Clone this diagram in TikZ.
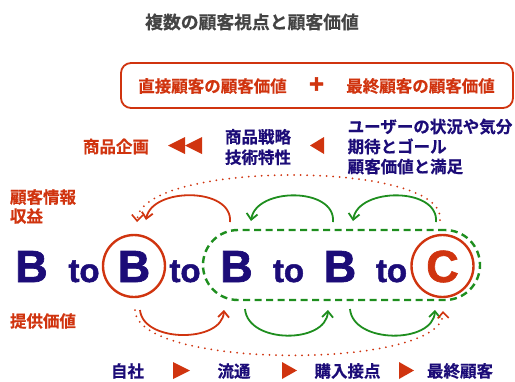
\documentclass[tikz,border=0pt]{standalone}
\usepackage{fontspec}
\newfontfamily\jp{Noto Sans CJK JP Bold}[FakeBold=0.5]
\newfontfamily\lat{Liberation Sans Bold}[FakeBold=1.5]
\usetikzlibrary{arrows.meta}
\definecolor{cred}{HTML}{D0340F}
\definecolor{cnavy}{HTML}{1C0C78}
\definecolor{cgreen}{HTML}{1E8E1E}
\definecolor{cgray}{HTML}{444444}
\tikzset{
  jptext/.style={inner sep=0pt, font=\jp\fontsize{16.5}{20}\selectfont},
  redtext/.style={jptext, text=cred},
  navytext/.style={jptext, text=cnavy, align=left},
  bigletter/.style={inner sep=0pt, anchor=base, text=cnavy, font=\lat\fontsize{45}{45}\selectfont},
  toword/.style={inner sep=0pt, anchor=base, text=cnavy, font=\lat\fontsize{33}{33}\selectfont},
  ring/.style={draw=cred, line width=2.4pt, circle, minimum size=62pt, inner sep=0pt},
  tri/.style={fill=cred, draw=none},
  redarc/.style={draw=cred, line width=1.8pt, -{Straight Barb[length=6pt,width=11pt,line width=1.8pt]}},
  greenarc/.style={draw=cgreen, line width=1.8pt, -{Straight Barb[length=6pt,width=11pt,line width=1.8pt]}},
  dotarc/.style={draw=cred, line width=2pt, line cap=round, dash pattern=on 0pt off 6.5pt, -{Straight Barb[length=6pt,width=11pt,line width=1.6pt]}},
}
\begin{document}
\begin{tikzpicture}[x=1pt,y=-1pt]
\useasboundingbox (0,0) rectangle (515,381);
% title
\node[inner sep=0pt, text=cgray, font=\jp\fontsize{17.8}{20}\selectfont] (title) at (252,22) {複数の顧客視点と顧客価値};
% value box
\node[draw=cred, line width=1.8pt, rounded corners=10pt, minimum width=392pt, minimum height=45pt, inner sep=0pt] (valuebox) at (317,85.5) {};
\node[redtext] (direct) at (212.5,86) {直接顧客の顧客価値};
\node[inner sep=0pt, text=cred, font=\lat\fontsize{26}{26}\selectfont] (plus) at (316.5,85) {+};
\node[redtext] (final) at (420.5,86) {最終顧客の顧客価値};
% second row
\node[redtext] (plan) at (116,146.5) {商品企画};
\path[tri] (168,145.5) -- (185,137) -- (185,154) -- cycle;
\path[tri] (185,145.5) -- (202,137) -- (202,154) -- cycle;
\node[navytext] (strategy) at (258,147) {商品戦略\\[0.5pt]技術特性};
\path[tri] (310,145.5) -- (324,137) -- (324,154) -- cycle;
\node[navytext, font=\jp\fontsize{16.5}{20}\selectfont] (user) at (430,146.5) {ユーザーの状況や気分\\期待とゴール\\顧客価値と満足};
% left labels
\node[redtext, align=left, font=\jp\fontsize{16.5}{19}\selectfont] (info) at (43,206.5) {顧客情報\\収益};
\node[redtext] (offer) at (43,321) {提供価値};
% group outline
\node[draw=cgreen, line width=2.4pt, dash pattern=on 7pt off 4.5pt, rounded corners=35pt, minimum width=277pt, minimum height=70pt, inner sep=0pt] (group) at (341.5,265) {};
% main row
\node[bigletter] (b1) at (31.5,282) {B};
\node[toword] (to1) at (84,282) {to};
\node[bigletter] (b2) at (134,282) {B};
\node[ring] (b2ring) at (134,266) {};
\node[toword] (to2) at (185,282) {to};
\node[bigletter] (b3) at (236.5,282) {B};
\node[toword] (to3) at (288.5,282) {to};
\node[bigletter] (b4) at (340,282) {B};
\node[toword] (to4) at (391.5,282) {to};
\node[bigletter, text=cred] (c) at (442.5,282) {C};
\node[ring] (cring) at (442.5,266) {};
% arc end points
\coordinate (a1s) at (230,222); \coordinate (a1e) at (146,220);
\coordinate (a2s) at (333,222); \coordinate (a2e) at (251,221);
\coordinate (a3s) at (436,222); \coordinate (a3e) at (353,221);
\coordinate (d1s) at (440,220); \coordinate (d1e) at (137,222);
\coordinate (u1s) at (140,310); \coordinate (u1e) at (224,310);
\coordinate (u2s) at (245,309); \coordinate (u2e) at (328,310);
\coordinate (u3s) at (350,309); \coordinate (u3e) at (435,310);
\coordinate (d2s) at (135,310); \coordinate (d2e) at (443,311);
% upper arcs
\draw[redarc] (a1s) .. controls (233,187) and (152,187) .. (a1e);
\draw[greenarc] (a2s) .. controls (336,187) and (256,187) .. (a2e);
\draw[greenarc] (a3s) .. controls (439,187) and (358,187) .. (a3e);
\draw[dotarc] (d1s) .. controls (447,160) and (140,160) .. (d1e);
% lower arcs
\draw[redarc] (u1s) .. controls (143,343) and (222,343) .. (u1e);
\draw[greenarc] (u2s) .. controls (248,344) and (326,344) .. (u2e);
\draw[greenarc] (u3s) .. controls (353,344) and (433,344) .. (u3e);
\draw[dotarc] (d2s) .. controls (136,370) and (445,370) .. (d2e);
% bottom row
\node[navytext] (self) at (127.5,371) {自社};
\path[tri] (190,370.5) -- (173,362) -- (173,379) -- cycle;
\node[navytext] (dist) at (234,371) {流通};
\path[tri] (297,370.5) -- (282,362) -- (282,379) -- cycle;
\node[navytext] (touch) at (347.5,371) {購入接点};
\path[tri] (414,370.5) -- (399,362) -- (399,379) -- cycle;
\node[navytext] (endc) at (460,371) {最終顧客};
\end{tikzpicture}
\end{document}
